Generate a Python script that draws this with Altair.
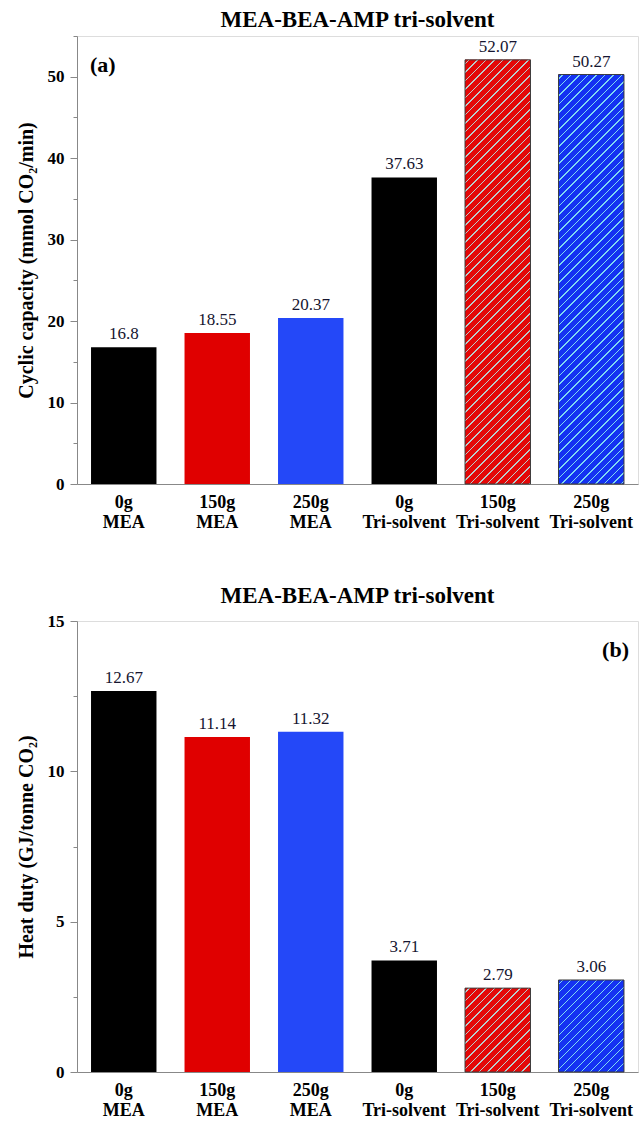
import altair as alt
import pandas as pd

# Samples along the x axis (amount of solvent / solvent type)
categories = [
    "0g MEA", "150g MEA", "250g MEA",
    "0g Tri-solvent", "150g Tri-solvent", "250g Tri-solvent",
]
# (a) cyclic capacity, mmol CO2/min
cyclic_capacity = [16.8, 18.55, 20.37, 37.63, 52.07, 50.27]
# (b) heat duty, GJ/tonne CO2
heat_duty = [12.67, 11.14, 11.32, 3.71, 2.79, 3.06]

bar_colors = ["#000000", "#e00000", "#2448f8", "#000000", "#e40808", "#1432f2"]
hatched = {"150g Tri-solvent": "#b9cccc", "250g Tri-solvent": "#80d8f2"}

SERIF = "Liberation Serif"
PLOT_W = 561
PAD_INNER = 0.3
PAD_OUTER = 0.15
STEP = PLOT_W / (len(categories) - PAD_INNER + 2 * PAD_OUTER)
BAND = STEP * (1 - PAD_INNER)


def stripe_fill(base, line, w, h, spacing=8.5, thick=1.4):
    """Linear gradient that paints thin '/' diagonal lines over a bar of w x h px."""
    total = w + h
    k = total / (w * w + h * h)
    stops = [{"offset": 0, "color": base}]
    c = spacing / 2
    half = thick / 2
    while c + half < total:
        t0 = (c - half) / total
        t1 = (c + half) / total
        stops += [
            {"offset": t0, "color": base},
            {"offset": t0, "color": line},
            {"offset": t1, "color": line},
            {"offset": t1, "color": base},
        ]
        c += spacing
    stops.append({"offset": 1, "color": base})
    return {"gradient": "linear", "x1": 0, "y1": 0, "x2": w * k, "y2": h * k, "stops": stops}


def panel(values, ymax, step, plot_h, ytitle, tag, tag_x, tag_align):
    df = pd.DataFrame({
        "cat": categories,
        "value": values,
        "label": [f"{v:g}" for v in values],
    })
    base = alt.Chart(df)
    x = alt.X(
        "cat:N", sort=categories,
        scale=alt.Scale(paddingInner=PAD_INNER, paddingOuter=PAD_OUTER),
        axis=alt.Axis(
            title=None, labelAngle=0, ticks=False,
            labelExpr="split(datum.label, ' ')",
            labelFont=SERIF, labelFontSize=18, labelFontWeight="bold",
            labelColor="#000000", labelLineHeight=20, labelPadding=9,
        ),
    )
    ticks = [i * step / 2 for i in range(int(round(2 * ymax / step)) + 1)]
    y = alt.Y(
        "value:Q",
        scale=alt.Scale(domain=[0, ymax], nice=False, zero=True),
        axis=alt.Axis(
            title=ytitle, values=ticks, grid=False,
            labelExpr=f"datum.value % {step} === 0 ? datum.label : ''",
            tickSize={"condition": {"test": f"datum.value % {step} === 0", "value": 7}, "value": 4},
            labelFont=SERIF, labelFontSize=17, labelFontWeight="bold",
            labelColor="#000000", labelPadding=6,
            titleFont=SERIF, titleFontSize=20, titleFontWeight="bold",
            titleColor="#000000", titlePadding=11,
        ),
    )
    color = alt.Color("cat:N", scale=alt.Scale(domain=categories, range=bar_colors), legend=None)

    bars = base.mark_bar().encode(x=x, y=y, color=color)

    px_per_unit = plot_h / ymax
    layers = [bars]
    for cat, line in hatched.items():
        i = categories.index(cat)
        fill = stripe_fill(bar_colors[i], line, BAND, values[i] * px_per_unit)
        layers.append(
            base.transform_filter(alt.datum.cat == cat)
            .mark_bar(fill=fill, stroke="#3c3c3c", strokeWidth=1)
            .encode(x=x, y=y)
        )

    labels = base.mark_text(
        baseline="bottom", dy=-4, font=SERIF, fontSize=17, color="#151530"
    ).encode(x=x, y=y, text="label:N")
    layers.append(labels)

    tag_text = alt.Chart(pd.DataFrame({"tag": [tag]})).mark_text(
        align=tag_align, baseline="middle", font=SERIF, fontSize=22,
        fontWeight="bold", color="#000000",
    ).encode(x=alt.value(tag_x), y=alt.value(29), text="tag:N")
    layers.append(tag_text)

    return alt.layer(*layers).properties(
        width=PLOT_W,
        height=plot_h,
        title=alt.TitleParams(
            "MEA-BEA-AMP tri-solvent", font=SERIF, fontSize=23,
            fontWeight="bold", color="#000000", offset=4, frame="group",
            anchor="middle",
        ),
    )


top = panel(cyclic_capacity, 55, 10, 448, "Cyclic capacity (mmol CO₂/min)", "(a)", 13, "left")
bottom = panel(heat_duty, 15, 5, 451, "Heat duty (GJ/tonne CO₂)", "(b)", 552, "right")

chart = (
    alt.vconcat(top, bottom, spacing=52)
    .properties(padding={"left": 15, "top": 8, "right": 3, "bottom": 0})
    .configure_view(stroke="#000000", strokeWidth=1.5)
    .configure_axis(domainColor="#000000", domainWidth=2, tickColor="#000000", tickWidth=1.5)
    .configure(background="#ffffff")
)

chart.save("out.html", embed_options={"renderer": "svg", "actions": False})
